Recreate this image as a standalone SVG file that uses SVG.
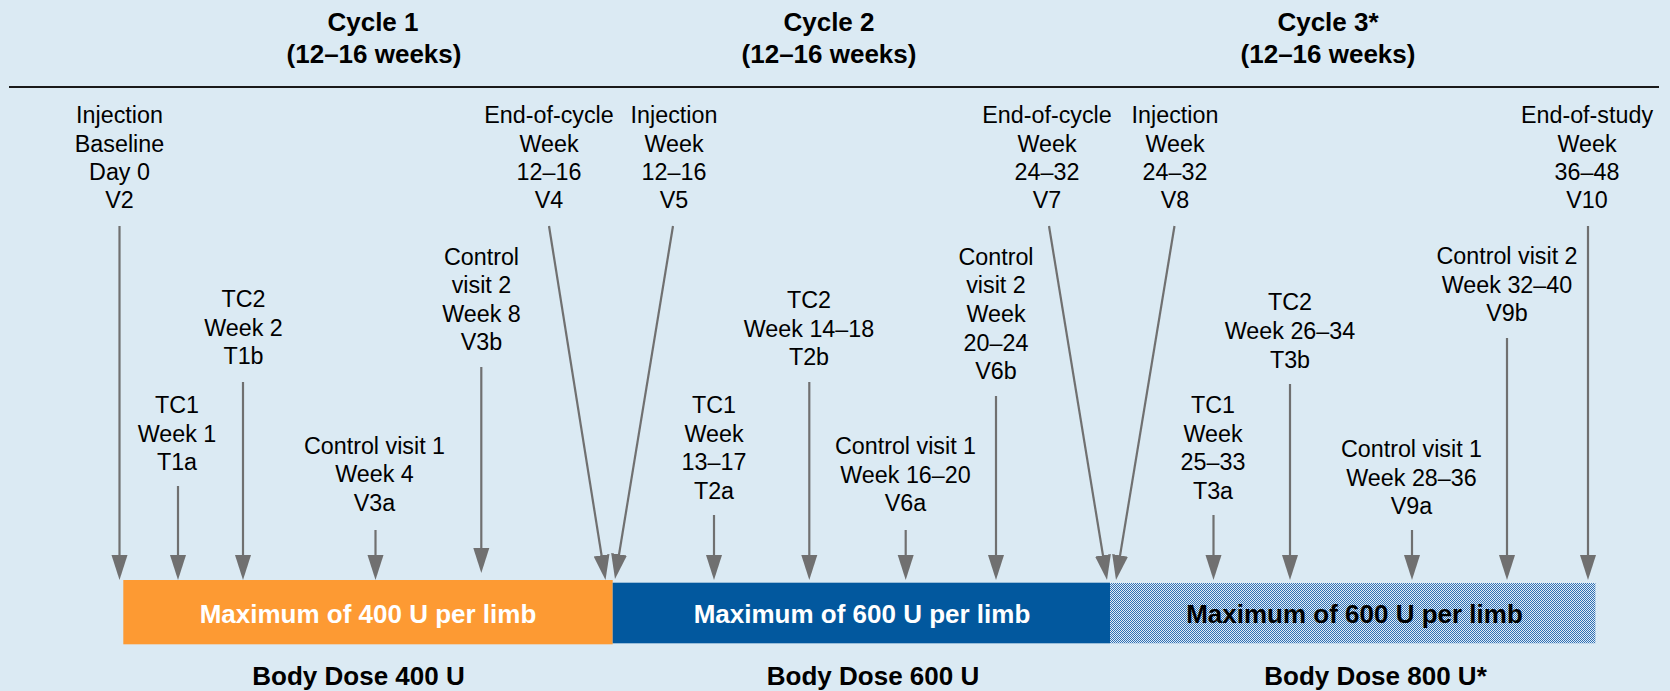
<svg xmlns="http://www.w3.org/2000/svg" width="1670" height="691" viewBox="0 0 1670 691">
<style>
.title{font-family:"Liberation Sans",Arial,sans-serif;font-weight:bold;font-size:26px;fill:#000;text-anchor:middle}
.lbl{font-family:"Liberation Sans",Arial,sans-serif;font-size:23.3px;fill:#000;text-anchor:middle}
.bar{font-family:"Liberation Sans",Arial,sans-serif;font-weight:bold;font-size:26px;text-anchor:middle}
.conn line{stroke:#707070;stroke-width:2.2;marker-end:url(#ah)}
</style>
<defs>
<marker id="ah" markerUnits="userSpaceOnUse" markerWidth="26" markerHeight="17" refX="5" refY="8" orient="auto" viewBox="0 0 26 16">
<path d="M0,0 L25,8 L0,16 z" fill="#707070"/>
</marker>
<pattern id="dots" width="2" height="2" patternUnits="userSpaceOnUse">
<rect width="2" height="2" fill="#e2edf7"/>
<rect width="1" height="1" fill="#2f70b4"/>
<rect x="1" y="1" width="1" height="1" fill="#2f70b4"/>
</pattern>
</defs>
<rect width="1670" height="691" fill="#dbeaf3"/>

<g id="headers">
<text class="title" x="373" y="31">Cycle 1</text>
<text class="title" x="374" y="62.5">(12–16 weeks)</text>
<text class="title" x="829" y="31">Cycle 2</text>
<text class="title" x="829" y="62.5">(12–16 weeks)</text>
<text class="title" x="1328" y="31">Cycle 3*</text>
<text class="title" x="1328" y="62.5">(12–16 weeks)</text>
<line x1="9" y1="87" x2="1659" y2="87" stroke="#1a1a1a" stroke-width="2"/>
</g>

<g id="V2"><text class="lbl"><tspan x="119.5" y="123.3">Injection</tspan><tspan x="119.5" y="151.7">Baseline</tspan><tspan x="119.5" y="180">Day 0</tspan><tspan x="119.5" y="208.3">V2</tspan></text></g>
<g id="V4"><text class="lbl"><tspan x="549" y="123.3">End-of-cycle</tspan><tspan x="549" y="151.7">Week</tspan><tspan x="549" y="180">12–16</tspan><tspan x="549" y="208.3">V4</tspan></text></g>
<g id="V5"><text class="lbl"><tspan x="674" y="123.3">Injection</tspan><tspan x="674" y="151.7">Week</tspan><tspan x="674" y="180">12–16</tspan><tspan x="674" y="208.3">V5</tspan></text></g>
<g id="V7"><text class="lbl"><tspan x="1047" y="123.3">End-of-cycle</tspan><tspan x="1047" y="151.7">Week</tspan><tspan x="1047" y="180">24–32</tspan><tspan x="1047" y="208.3">V7</tspan></text></g>
<g id="V8"><text class="lbl"><tspan x="1175" y="123.3">Injection</tspan><tspan x="1175" y="151.7">Week</tspan><tspan x="1175" y="180">24–32</tspan><tspan x="1175" y="208.3">V8</tspan></text></g>
<g id="V10"><text class="lbl"><tspan x="1587" y="123.3">End-of-study</tspan><tspan x="1587" y="151.7">Week</tspan><tspan x="1587" y="180">36–48</tspan><tspan x="1587" y="208.3">V10</tspan></text></g>

<g id="T1a"><text class="lbl"><tspan x="177" y="412.7">TC1</tspan><tspan x="177" y="441.7">Week 1</tspan><tspan x="177" y="470">T1a</tspan></text></g>
<g id="T1b"><text class="lbl"><tspan x="243.5" y="307">TC2</tspan><tspan x="243.5" y="335.5">Week 2</tspan><tspan x="243.5" y="364">T1b</tspan></text></g>
<g id="V3a"><text class="lbl"><tspan x="374.5" y="453.5">Control visit 1</tspan><tspan x="374.5" y="482">Week 4</tspan><tspan x="374.5" y="510.5">V3a</tspan></text></g>
<g id="V3b"><text class="lbl"><tspan x="481.5" y="265">Control</tspan><tspan x="481.5" y="293.3">visit 2</tspan><tspan x="481.5" y="321.7">Week 8</tspan><tspan x="481.5" y="350">V3b</tspan></text></g>

<g id="T2a"><text class="lbl"><tspan x="714" y="412.7">TC1</tspan><tspan x="714" y="441.7">Week</tspan><tspan x="714" y="470">13–17</tspan><tspan x="714" y="498.5">T2a</tspan></text></g>
<g id="T2b"><text class="lbl"><tspan x="809" y="308">TC2</tspan><tspan x="809" y="336.5">Week 14–18</tspan><tspan x="809" y="365">T2b</tspan></text></g>
<g id="V6a"><text class="lbl"><tspan x="905.5" y="454">Control visit 1</tspan><tspan x="905.5" y="482.5">Week 16–20</tspan><tspan x="905.5" y="511">V6a</tspan></text></g>
<g id="V6b"><text class="lbl"><tspan x="996" y="265">Control</tspan><tspan x="996" y="293.3">visit 2</tspan><tspan x="996" y="321.7">Week</tspan><tspan x="996" y="350.5">20–24</tspan><tspan x="996" y="379">V6b</tspan></text></g>

<g id="T3a"><text class="lbl"><tspan x="1213" y="412.7">TC1</tspan><tspan x="1213" y="441.7">Week</tspan><tspan x="1213" y="470">25–33</tspan><tspan x="1213" y="498.5">T3a</tspan></text></g>
<g id="T3b"><text class="lbl"><tspan x="1290" y="310">TC2</tspan><tspan x="1290" y="339">Week 26–34</tspan><tspan x="1290" y="368">T3b</tspan></text></g>
<g id="V9a"><text class="lbl"><tspan x="1411.5" y="456.5">Control visit 1</tspan><tspan x="1411.5" y="485.5">Week 28–36</tspan><tspan x="1411.5" y="514">V9a</tspan></text></g>
<g id="V9b"><text class="lbl"><tspan x="1507" y="264">Control visit 2</tspan><tspan x="1507" y="292.7">Week 32–40</tspan><tspan x="1507" y="321">V9b</tspan></text></g>

<g id="bar1">
<rect x="123.3" y="580" width="489.4" height="64.3" fill="#fd9a33"/>
<text class="bar" x="368" y="622.7" fill="#fff">Maximum of 400 U per limb</text>
<text class="title" x="358.5" y="685">Body Dose 400 U</text>
</g>
<g id="bar2">
<rect x="612.7" y="582.7" width="497.3" height="60.6" fill="#02589e"/>
<text class="bar" x="862" y="622.7" fill="#fff">Maximum of 600 U per limb</text>
<text class="title" x="873" y="685">Body Dose 600 U</text>
</g>
<g id="bar3">
<rect x="1110" y="583" width="485.4" height="60.3" fill="url(#dots)"/>
<text class="bar" x="1354.5" y="622.7" fill="#000">Maximum of 600 U per limb</text>
<text class="title" x="1375.5" y="685">Body Dose 800 U*</text>
</g>

<g id="connectors" class="conn">
<line x1="119.5" y1="226" x2="119.5" y2="560"/>
<line x1="178" y1="486" x2="178" y2="560"/>
<line x1="243" y1="382" x2="243" y2="560"/>
<line x1="375.5" y1="530" x2="375.5" y2="560"/>
<line x1="481.3" y1="367" x2="481.3" y2="553"/>
<line x1="549" y1="226" x2="602.35" y2="560.25"/>
<line x1="673" y1="226" x2="618.24" y2="559.26"/>
<line x1="714" y1="515" x2="714" y2="560"/>
<line x1="809.3" y1="382" x2="809.3" y2="560"/>
<line x1="905.7" y1="530" x2="905.7" y2="560"/>
<line x1="996" y1="396" x2="996" y2="560"/>
<line x1="1049" y1="226" x2="1103.77" y2="560.26"/>
<line x1="1174.5" y1="226" x2="1119.26" y2="560.27"/>
<line x1="1213.5" y1="515" x2="1213.5" y2="560"/>
<line x1="1290" y1="384" x2="1290" y2="560"/>
<line x1="1412" y1="530" x2="1412" y2="560"/>
<line x1="1507" y1="338" x2="1507" y2="560"/>
<line x1="1588" y1="226" x2="1588" y2="560"/>
</g>
</svg>
